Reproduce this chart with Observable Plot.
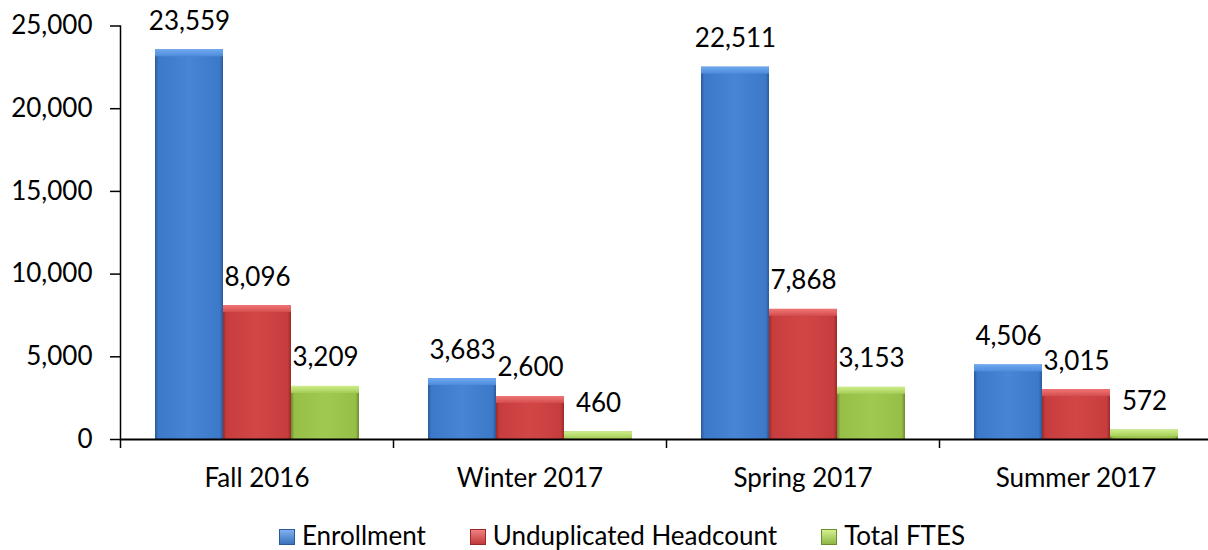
<!DOCTYPE html>
<html>
<head>
<meta charset="utf-8">
<script src="https://cdn.jsdelivr.net/npm/d3@7"></script>
<script src="https://cdn.jsdelivr.net/npm/@observablehq/plot@0.6"></script>
<style>
  html, body { margin: 0; padding: 0; background: #fff; }
  #chart { width: 1208px; height: 550px; overflow: hidden; font-family: Lato, sans-serif; }
  #chart svg { display: block; }
  .legend { display: flex; justify-content: center; align-items: center; height: 30px; margin-top: 20px;
            font-size: 26px; line-height: 30px; color: #000; padding-left: 36px; gap: 44px; }
  .legend .item { display: flex; align-items: center; }
  .legend .sw { width: 16px; height: 16px; margin-right: 7px; position: relative; top: 2px; box-sizing: border-box; }
</style>
</head>
<body>
<div id="chart"></div>
<script>
const categories = ["Fall 2016", "Winter 2017", "Spring 2017", "Summer 2017"];
const series = ["Enrollment", "Unduplicated Headcount", "Total FTES"];
const enrollment = [23559, 3683, 22511, 4506];
const headcount = [8096, 2600, 7868, 3015];
const ftes = [3209, 460, 3153, 572];
const yTicks = [0, 5000, 10000, 15000, 20000, 25000];

const seriesValues = [enrollment, headcount, ftes];
const data = [];
categories.forEach((c, i) => {
  series.forEach((s, j) => data.push({category: c, series: s, value: seriesValues[j][i]}));
});

const gradIds = ["gE", "gU", "gT"];
const bevelIds = ["bE", "bU", "bT"];
const palette = [
  {edge: "#2b5a9a", body: "#3c79c8", mid: "#4785d5", hi: "#6fa8f0", hi2: "#4d8bda", legTop: "#7fb0ee", legBot: "#3a73bd"},
  {edge: "#9a2a2a", body: "#c73d3d", mid: "#d24646", hi: "#f07676", hi2: "#d44c4c", legTop: "#f08080", legBot: "#c03a3a"},
  {edge: "#6c8c2e", body: "#96bf48", mid: "#a0c951", hi: "#cdee88", hi2: "#a5cd58", legTop: "#d2f090", legBot: "#8fb744"}
];

const W = 1208, H = 500;
const bandW = (W + 4 - 120) / categories.length;

const svg = Plot.plot({
  width: W,
  height: H,
  marginLeft: 120,
  marginRight: -4,
  marginTop: 25.5,
  marginBottom: 61,
  style: {fontFamily: "Lato, sans-serif", fontSize: "26px", color: "#000", background: "#fff"},
  fx: {domain: categories, padding: 0, label: null},
  x: {domain: series, paddingInner: 0, paddingOuter: 0.5, axis: null},
  y: {domain: [0, 25000], label: null},
  color: {type: "ordinal", domain: series, range: gradIds.map(id => `url(#${id})`)},
  marks: [
    Plot.barY(data, {fx: "category", x: "series", y: "value", fill: "series"}),
    Plot.barY(data, {fx: "category", x: "series", y1: "value", y2: "value", insetBottom: -7,
                     fill: d => `url(#${bevelIds[series.indexOf(d.series)]})`}),
    Plot.text(data, {fx: "category", x: "series", y: "value", text: d => d3.format(",")(d.value),
                     lineAnchor: "bottom", dy: -20, fontSize: 26, fill: "#000"}),
    Plot.ruleY([0], {stroke: "#000", strokeWidth: 2}),
    Plot.frame({anchor: "left", facetAnchor: "left", stroke: "#000", strokeWidth: 1.5}),
    Plot.axisY({ticks: yTicks, tickFormat: d3.format(","), tickSize: 10, tickPadding: 18,
                fontSize: 26, stroke: "#000", strokeWidth: 1.5, label: null}),
    Plot.axisFx({anchor: "bottom", tickSize: 0, tickPadding: 29, fontSize: 26, label: null}),
    Plot.axisFx({anchor: "bottom", tickSize: 9, tickFormat: () => "", dx: -bandW / 2,
                 stroke: "#000", strokeWidth: 1.5, label: null})
  ]
});

const defs = palette.map((p, i) => `
  <linearGradient id="${gradIds[i]}" x1="0" y1="0" x2="1" y2="0">
    <stop offset="0" stop-color="${p.edge}"/>
    <stop offset="0.05" stop-color="${p.body}"/>
    <stop offset="0.5" stop-color="${p.mid}"/>
    <stop offset="0.95" stop-color="${p.body}"/>
    <stop offset="1" stop-color="${p.edge}"/>
  </linearGradient>
  <linearGradient id="${bevelIds[i]}" x1="0" y1="0" x2="0" y2="1">
    <stop offset="0" stop-color="${p.hi}"/>
    <stop offset="1" stop-color="${p.hi2}"/>
  </linearGradient>`).join("");
svg.insertAdjacentHTML("afterbegin", `<defs>${defs}</defs>`);

const chart = document.getElementById("chart");
chart.appendChild(svg);

const legend = document.createElement("div");
legend.className = "legend";
series.forEach((s, i) => {
  const item = document.createElement("div");
  item.className = "item";
  const sw = document.createElement("span");
  sw.className = "sw";
  sw.style.background = `linear-gradient(to bottom, ${palette[i].legTop}, ${palette[i].legBot})`;
  sw.style.border = `1px solid ${palette[i].edge}`;
  const t = document.createElement("span");
  t.textContent = s;
  item.appendChild(sw);
  item.appendChild(t);
  legend.appendChild(item);
});
chart.appendChild(legend);
</script>
</body>
</html>
